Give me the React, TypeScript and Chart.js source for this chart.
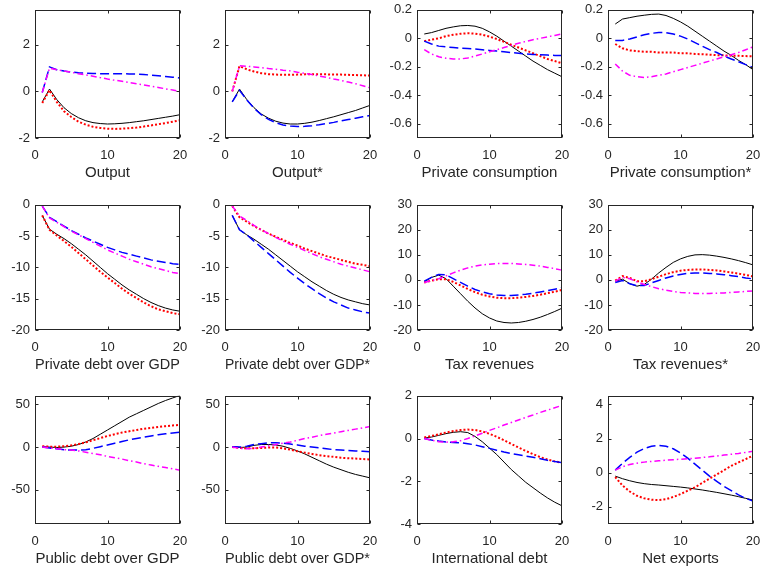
import React, { useEffect, useRef } from "react";
import { Chart, registerables } from "chart.js";

Chart.register(...registerables);

// ---------- data ----------
const periods = [1, 2, 3, 4, 5, 6, 7, 8, 9, 10, 11, 12, 13, 14, 15, 16, 17, 18, 19, 20];
const xTickValues = [0, 10, 20];

const panelTitles = [
  "Output", "Output*", "Private consumption", "Private consumption*",
  "Private debt over GDP", "Private debt over GDP*", "Tax revenues", "Tax revenues*",
  "Public debt over GDP", "Public debt over GDP*", "International debt", "Net exports",
];

// Output
const outputSolid = [-0.45, 0.1, -0.35, -0.7, -0.95, -1.13, -1.26, -1.34, -1.38, -1.4, -1.39, -1.37, -1.34, -1.3, -1.26, -1.21, -1.16, -1.11, -1.06, -1.0];
const outputDotted = [-0.5, 0.05, -0.45, -0.85, -1.1, -1.3, -1.43, -1.52, -1.57, -1.6, -1.61, -1.6, -1.58, -1.55, -1.51, -1.46, -1.41, -1.36, -1.3, -1.24];
const outputDashed = [-0.05, 1.05, 0.93, 0.87, 0.83, 0.8, 0.78, 0.77, 0.76, 0.76, 0.76, 0.76, 0.75, 0.74, 0.72, 0.7, 0.67, 0.64, 0.61, 0.57];
const outputDashDot = [-0.05, 1.0, 0.93, 0.87, 0.82, 0.76, 0.71, 0.65, 0.59, 0.53, 0.48, 0.43, 0.38, 0.33, 0.28, 0.22, 0.17, 0.11, 0.06, 0.0];

// Output*
const outputStarSolid = [-0.45, 0.1, -0.35, -0.7, -0.97, -1.15, -1.28, -1.36, -1.4, -1.4, -1.37, -1.32, -1.25, -1.17, -1.09, -1.0, -0.91, -0.82, -0.71, -0.6];
const outputStarDotted = [0.0, 1.08, 0.95, 0.85, 0.78, 0.74, 0.72, 0.71, 0.71, 0.72, 0.73, 0.73, 0.73, 0.73, 0.72, 0.72, 0.71, 0.7, 0.69, 0.68];
const outputStarDashed = [-0.45, 0.05, -0.37, -0.72, -1.0, -1.2, -1.34, -1.44, -1.49, -1.51, -1.5, -1.47, -1.43, -1.38, -1.33, -1.27, -1.21, -1.15, -1.09, -1.03];
const outputStarDashDot = [0.0, 1.1, 1.08, 1.05, 1.02, 0.98, 0.95, 0.91, 0.88, 0.82, 0.77, 0.72, 0.66, 0.6, 0.53, 0.47, 0.4, 0.33, 0.24, 0.15];

// Private consumption
const consSolid = [0.03, 0.04, 0.055, 0.07, 0.08, 0.088, 0.09, 0.085, 0.07, 0.045, 0.015, -0.02, -0.055, -0.09, -0.125, -0.16, -0.19, -0.22, -0.245, -0.27];
const consDotted = [-0.02, -0.01, 0.0, 0.015, 0.025, 0.032, 0.035, 0.033, 0.025, 0.012, -0.005, -0.025, -0.045, -0.065, -0.085, -0.105, -0.125, -0.145, -0.16, -0.175];
const consDashed = [-0.02, -0.04, -0.055, -0.06, -0.065, -0.07, -0.072, -0.075, -0.08, -0.085, -0.09, -0.095, -0.1, -0.105, -0.11, -0.113, -0.116, -0.118, -0.12, -0.12];
const consDashDot = [-0.08, -0.11, -0.13, -0.14, -0.145, -0.145, -0.138, -0.125, -0.11, -0.095, -0.08, -0.065, -0.05, -0.035, -0.022, -0.01, 0.0, 0.01, 0.02, 0.03];

// Private consumption*
const consStarSolid = [0.1, 0.135, 0.145, 0.155, 0.162, 0.168, 0.17, 0.16, 0.14, 0.115, 0.085, 0.05, 0.015, -0.02, -0.055, -0.09, -0.12, -0.155, -0.185, -0.22];
const consStarDotted = [-0.04, -0.07, -0.085, -0.09, -0.095, -0.095, -0.1, -0.1, -0.1, -0.105, -0.105, -0.11, -0.112, -0.115, -0.118, -0.12, -0.122, -0.123, -0.125, -0.126];
const consStarDashed = [-0.015, -0.015, -0.005, 0.01, 0.025, 0.035, 0.04, 0.04, 0.03, 0.015, -0.005, -0.03, -0.055, -0.08, -0.1, -0.125, -0.145, -0.165, -0.185, -0.205];
const consStarDashDot = [-0.18, -0.23, -0.26, -0.27, -0.275, -0.27, -0.26, -0.25, -0.235, -0.22, -0.205, -0.19, -0.175, -0.16, -0.145, -0.13, -0.115, -0.1, -0.08, -0.06];

// Private debt over GDP
const pdebtSolid = [-1.7, -3.9, -4.7, -5.4, -6.2, -7.1, -8.0, -9.0, -10.0, -11.0, -11.9, -12.8, -13.6, -14.3, -15.0, -15.6, -16.1, -16.5, -16.8, -17.0];
const pdebtDotted = [-1.7, -4.0, -4.9, -5.8, -6.7, -7.7, -8.7, -9.7, -10.7, -11.6, -12.5, -13.4, -14.2, -14.9, -15.6, -16.2, -16.7, -17.0, -17.3, -17.5];
const pdebtDashed = [-0.2, -2.0, -2.7, -3.4, -4.1, -4.7, -5.3, -5.8, -6.3, -6.8, -7.2, -7.6, -7.9, -8.2, -8.5, -8.8, -9.0, -9.2, -9.4, -9.5];
const pdebtDashDot = [-0.2, -2.1, -2.8, -3.5, -4.2, -4.8, -5.4, -6.0, -6.6, -7.2, -7.7, -8.2, -8.7, -9.1, -9.5, -9.9, -10.2, -10.5, -10.8, -11.0];

// Private debt over GDP*
const pdebtStarSolid = [-1.7, -4.0, -4.8, -5.5, -6.3, -7.1, -8.0, -8.9, -9.8, -10.7, -11.5, -12.3, -13.0, -13.7, -14.3, -14.8, -15.2, -15.5, -15.8, -16.0];
const pdebtStarDotted = [-0.2, -2.0, -2.7, -3.4, -4.0, -4.6, -5.1, -5.6, -6.1, -6.5, -7.0, -7.4, -7.8, -8.2, -8.5, -8.8, -9.1, -9.4, -9.6, -9.8];
const pdebtStarDashed = [-1.7, -4.0, -4.8, -5.8, -6.8, -7.8, -8.8, -9.8, -10.8, -11.7, -12.6, -13.4, -14.2, -14.9, -15.5, -16.0, -16.5, -16.8, -17.1, -17.3];
const pdebtStarDashDot = [-0.2, -1.8, -2.5, -3.3, -4.0, -4.6, -5.2, -5.8, -6.3, -6.8, -7.3, -7.8, -8.3, -8.7, -9.1, -9.5, -9.8, -10.1, -10.4, -10.7];

// Tax revenues
const taxSolid = [-0.8, 1.0, 1.9, 0.5, -2.5, -5.5, -8.5, -11.2, -13.5, -15.2, -16.4, -17.0, -17.2, -17.0, -16.5, -15.8, -14.9, -13.8, -12.6, -11.3];
const taxDotted = [-1.0, -0.3, 0.3, 0.3, -0.8, -2.2, -3.6, -4.9, -5.9, -6.6, -7.1, -7.3, -7.3, -7.1, -6.8, -6.4, -5.9, -5.3, -4.7, -4.0];
const taxDashed = [-0.5, 1.0, 2.2, 2.0, 0.5, -1.0, -2.5, -3.8, -4.8, -5.5, -6.0, -6.2, -6.2, -6.0, -5.7, -5.3, -4.8, -4.3, -3.7, -3.1];
const taxDashDot = [-1.0, -0.3, 0.5, 1.6, 2.8, 3.9, 4.8, 5.5, 6.0, 6.3, 6.5, 6.6, 6.6, 6.4, 6.2, 5.9, 5.5, 5.0, 4.5, 3.9];

// Tax revenues*
const taxStarSolid = [-0.5, 0.3, -1.5, -2.5, -1.8, 0.3, 2.8, 5.0, 7.0, 8.4, 9.4, 10.0, 10.1, 9.9, 9.5, 9.0, 8.4, 7.7, 6.9, 6.0];
const taxStarDotted = [-0.3, 1.5, 0.8, -0.5, -0.5, 0.3, 1.3, 2.3, 3.1, 3.7, 4.0, 4.2, 4.2, 4.0, 3.8, 3.4, 3.0, 2.5, 2.0, 1.4];
const taxStarDashed = [-1.0, -0.2, -1.5, -2.3, -2.2, -1.2, -0.2, 0.8, 1.6, 2.2, 2.6, 2.8, 2.8, 2.6, 2.4, 2.1, 1.7, 1.3, 0.8, 0.4];
const taxStarDashDot = [-0.5, 1.0, 0.5, -0.8, -1.8, -2.7, -3.5, -4.1, -4.6, -5.0, -5.2, -5.4, -5.4, -5.4, -5.3, -5.2, -5.0, -4.8, -4.6, -4.4];

// Public debt over GDP
const gdebtSolid = [0.5, 0.0, -0.5, 0.0, 1.0, 3.0, 6.0, 10.0, 15.0, 20.0, 25.0, 30.0, 35.0, 39.0, 43.0, 47.0, 51.0, 54.5, 57.5, 60.5];
const gdebtDotted = [1.0, 0.5, 0.5, 1.0, 2.0, 3.5, 5.5, 8.0, 10.5, 13.0, 15.0, 17.0, 18.5, 20.0, 21.5, 22.5, 23.5, 24.5, 25.3, 26.0];
const gdebtDashed = [0.0, -1.0, -2.0, -3.0, -3.5, -3.5, -3.0, -1.5, 0.5, 2.5, 4.5, 6.5, 8.5, 10.0, 11.5, 13.0, 14.5, 15.5, 16.5, 17.5];
const gdebtDashDot = [0.0, -1.0, -2.0, -3.0, -3.5, -4.5, -6.0, -7.5, -9.0, -11.0, -12.5, -14.0, -16.0, -17.5, -19.5, -21.0, -22.5, -24.0, -25.5, -27.0];

// Public debt over GDP*
const gdebtStarSolid = [0.5, -0.5, 0.0, 2.0, 3.0, 3.0, 2.5, 1.0, -1.5, -4.5, -8.0, -12.0, -16.0, -20.0, -23.5, -26.5, -29.5, -32.0, -34.0, -36.0];
const gdebtStarDotted = [0.0, -1.0, -1.5, -1.5, -1.0, -0.5, -0.5, -1.5, -3.0, -5.0, -6.5, -8.0, -9.5, -10.5, -11.5, -12.5, -13.0, -13.5, -14.0, -14.5];
const gdebtStarDashed = [0.5, 0.0, 1.0, 3.0, 4.0, 5.0, 5.0, 4.5, 3.5, 2.5, 1.0, 0.0, -1.0, -2.0, -3.0, -3.5, -4.0, -4.5, -5.0, -5.5];
const gdebtStarDashDot = [0.0, -1.5, -2.0, -1.5, 0.0, 1.5, 3.0, 4.5, 6.0, 8.0, 10.0, 11.5, 13.5, 15.0, 16.5, 18.0, 19.5, 21.0, 22.5, 24.0];

// International debt
const intlSolid = [0.02, 0.07, 0.15, 0.23, 0.29, 0.32, 0.28, 0.1, -0.15, -0.45, -0.75, -1.1, -1.45, -1.75, -2.05, -2.3, -2.55, -2.78, -2.98, -3.15];
const intlDotted = [0.05, 0.12, 0.2, 0.28, 0.35, 0.4, 0.42, 0.4, 0.33, 0.22, 0.08, -0.08, -0.25, -0.42, -0.58, -0.73, -0.87, -0.98, -1.07, -1.13];
const intlDashed = [0.0, -0.07, -0.12, -0.16, -0.18, -0.2, -0.24, -0.3, -0.38, -0.46, -0.55, -0.63, -0.7, -0.76, -0.82, -0.88, -0.95, -1.02, -1.08, -1.13];
const intlDashDot = [0.0, -0.08, -0.15, -0.17, -0.15, -0.1, 0.0, 0.12, 0.25, 0.38, 0.5, 0.63, 0.75, 0.87, 0.99, 1.1, 1.22, 1.33, 1.44, 1.55];

// Net exports
const nxSolid = [-0.2, -0.35, -0.47, -0.57, -0.64, -0.69, -0.72, -0.76, -0.8, -0.84, -0.89, -0.95, -1.01, -1.08, -1.15, -1.23, -1.31, -1.4, -1.5, -1.6];
const nxDotted = [-0.25, -0.75, -1.1, -1.35, -1.5, -1.58, -1.6, -1.55, -1.42, -1.25, -1.05, -0.85, -0.6, -0.35, -0.1, 0.15, 0.4, 0.6, 0.8, 1.0];
const nxDashed = [0.15, 0.55, 0.9, 1.2, 1.42, 1.55, 1.6, 1.55, 1.4, 1.15, 0.85, 0.5, 0.15, -0.2, -0.5, -0.8, -1.05, -1.3, -1.5, -1.65];
const nxDashDot = [0.15, 0.35, 0.48, 0.56, 0.62, 0.66, 0.7, 0.73, 0.76, 0.79, 0.82, 0.85, 0.89, 0.93, 0.98, 1.03, 1.08, 1.13, 1.19, 1.25];

// y-axis ranges and tick labels
const yTicksOutput = [-2, 0, 2];
const yTicksCons = [-0.6, -0.4, -0.2, 0, 0.2];
const yTicksPdebt = [-20, -15, -10, -5, 0];
const yTicksTax = [-20, -10, 0, 10, 20, 30];
const yTicksGdebt = [-50, 0, 50];
const yTicksIntl = [-4, -2, 0, 2];
const yTicksNx = [-2, 0, 2, 4];

const yMins = [-2, -2, -0.7, -0.7, -20, -20, -20, -20, -90, -90, -4, -3];
const yMaxs = [3.5, 3.5, 0.2, 0.2, 0, 0, 30, 30, 60, 60, 2, 4.5];
const yTickSets = [yTicksOutput, yTicksOutput, yTicksCons, yTicksCons, yTicksPdebt, yTicksPdebt, yTicksTax, yTicksTax, yTicksGdebt, yTicksGdebt, yTicksIntl, yTicksNx];

const panelSeries = [
  [outputSolid, outputDotted, outputDashed, outputDashDot],
  [outputStarSolid, outputStarDotted, outputStarDashed, outputStarDashDot],
  [consSolid, consDotted, consDashed, consDashDot],
  [consStarSolid, consStarDotted, consStarDashed, consStarDashDot],
  [pdebtSolid, pdebtDotted, pdebtDashed, pdebtDashDot],
  [pdebtStarSolid, pdebtStarDotted, pdebtStarDashed, pdebtStarDashDot],
  [taxSolid, taxDotted, taxDashed, taxDashDot],
  [taxStarSolid, taxStarDotted, taxStarDashed, taxStarDashDot],
  [gdebtSolid, gdebtDotted, gdebtDashed, gdebtDashDot],
  [gdebtStarSolid, gdebtStarDotted, gdebtStarDashed, gdebtStarDashDot],
  [intlSolid, intlDotted, intlDashed, intlDashDot],
  [nxSolid, nxDotted, nxDashed, nxDashDot],
];

// ---------- styling / layout ----------
const FONT = "'Liberation Sans', Arial, Helvetica, sans-serif";
const AXIS_COLOR = "#262626";
const lineStyles = [
  { color: "#000000", width: 1, dash: [] as number[], order: 4 },
  { color: "#ff0000", width: 2, dash: [2, 2], order: 3 },
  { color: "#0000ff", width: 1.5, dash: [9, 4], order: 2 },
  { color: "#ff00ff", width: 1.5, dash: [6, 3, 1.5, 3], order: 1 },
];

const colLefts = [35, 225, 417, 608];
const rowTops = [7, 202, 393];
const rowHeights = [131, 128, 131];
const PLOT_W = 145;
const AXIS_W = 35;
const AXIS_H = 45;
const PAD_T = 10;
const PAD_R = 22;

const boxPlugin = {
  id: "matlabBox",
  afterDraw(chart: any) {
    const { ctx, chartArea: a, scales } = chart;
    const L = Math.round(a.left) + 0.5;
    const R = Math.round(a.right) - 0.5;
    const T = Math.round(a.top) + 0.5;
    const B = Math.round(a.bottom) - 0.5;
    const tl = 3;
    ctx.save();
    ctx.strokeStyle = AXIS_COLOR;
    ctx.lineWidth = 1;
    ctx.strokeRect(L, T, R - L, B - T);
    ctx.beginPath();
    for (const t of scales.x.ticks) {
      const px = Math.round(scales.x.getPixelForValue(t.value)) + 0.5;
      ctx.moveTo(px, B); ctx.lineTo(px, B - tl);
      ctx.moveTo(px, T); ctx.lineTo(px, T + tl);
    }
    for (const t of scales.y.ticks) {
      const py = Math.round(scales.y.getPixelForValue(t.value)) + 0.5;
      ctx.moveTo(L, py); ctx.lineTo(L + tl, py);
      ctx.moveTo(R, py); ctx.lineTo(R - tl, py);
    }
    ctx.stroke();
    ctx.restore();
  },
};

function Panel({ idx }: { idx: number }) {
  const ref = useRef<HTMLCanvasElement>(null);
  const col = idx % 4;
  const row = Math.floor(idx / 4);
  const plotH = rowHeights[row];
  const cw = AXIS_W + PLOT_W + PAD_R;
  const ch = PAD_T + plotH + AXIS_H;

  useEffect(() => {
    const canvas = ref.current!;
    const series = panelSeries[idx];
    const chart = new Chart(canvas, {
      type: "line",
      data: {
        datasets: lineStyles.map((st, k) => ({
          data: periods.map((x, i) => ({ x, y: series[k][i] })),
          borderColor: st.color,
          borderWidth: st.width,
          borderDash: st.dash,
          pointRadius: 0,
          fill: false,
          tension: 0,
          order: st.order,
        })),
      },
      options: {
        responsive: false,
        animation: false,
        events: [],
        layout: { padding: { top: PAD_T, right: PAD_R, left: 0, bottom: 0 } },
        plugins: { legend: { display: false }, tooltip: { enabled: false } },
        scales: {
          x: {
            type: "linear",
            min: 0,
            max: 20,
            afterBuildTicks: (s: any) => { s.ticks = xTickValues.map((v) => ({ value: v })); },
            afterFit: (s: any) => { s.height = AXIS_H; },
            grid: { display: false, drawTicks: false },
            border: { display: false },
            ticks: {
              font: { family: FONT, size: 13 },
              color: AXIS_COLOR,
              padding: 10,
              maxRotation: 0,
              autoSkip: false,
              callback: (v: any) => String(v),
            },
            title: {
              display: true,
              text: panelTitles[idx],
              font: { family: FONT, size: 15 },
              color: AXIS_COLOR,
              padding: { top: 0, bottom: 1 },
            },
          },
          y: {
            type: "linear",
            min: yMins[idx],
            max: yMaxs[idx],
            afterBuildTicks: (s: any) => { s.ticks = yTickSets[idx].map((v) => ({ value: v })); },
            afterFit: (s: any) => { s.width = AXIS_W; },
            grid: { display: false, drawTicks: false },
            border: { display: false },
            ticks: {
              font: { family: FONT, size: 13 },
              color: AXIS_COLOR,
              padding: 5,
              autoSkip: false,
              callback: (v: any) => String(v),
            },
          },
        },
      },
      plugins: [boxPlugin],
    } as any);
    return () => chart.destroy();
  }, [idx]);

  return (
    <canvas
      ref={ref}
      width={cw}
      height={ch}
      style={{
        position: "absolute",
        left: colLefts[col] - AXIS_W,
        top: rowTops[row] - PAD_T,
        width: cw,
        height: ch,
      }}
    />
  );
}

export default function App() {
  return (
    <div
      style={{
        position: "absolute",
        left: 0,
        top: 0,
        width: 761,
        height: 571,
        overflow: "hidden",
        background: "#ffffff",
      }}
    >
      {panelTitles.map((_, i) => (
        <Panel key={i} idx={i} />
      ))}
    </div>
  );
}
